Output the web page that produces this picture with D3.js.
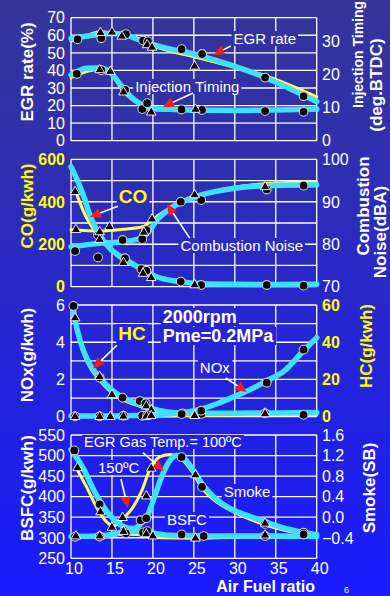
<!DOCTYPE html>
<html><head><meta charset="utf-8">
<script src="https://cdn.jsdelivr.net/npm/d3@7"></script>
<style>
body{margin:0;background:#1a1aff;overflow:hidden}
svg{display:block}
text{font-family:Arial,"Liberation Sans",sans-serif}
</style>
</head><body>
<svg id="c" width="390" height="596"></svg>
<script>
// ---------- DATA ----------
const afTicks = [10, 15, 20, 25, 30, 35, 40];
const xAxisTitle = "Air Fuel ratio";

// Panel 1: EGR rate (%) and Injection Timing (deg.BTDC)
const egrTicks = [0, 10, 20, 30, 40, 50, 60, 70];
const injTicks = [0, 10, 20, 30];
const egr100 = [[10,58.2],[13.5,60.5],[15.2,61],[17,59.7],[19,56.2],[21,53.4],[25,49.3],[30,42.3],[33.7,36],[37,29],[40,22.3]];
const egr150 = [[10,56.7],[11.8,59.5],[13.5,62],[16.2,60.5],[18,58.3],[20,54],[22.5,50.5],[25,47.8],[30,41.8],[33.7,37],[40,25]];
const egr100Pts = [[10.8,57.7],[13.7,58.3],[16.7,60.6],[18.8,57],[19.4,56.5],[23.5,52.1],[26,49.3],[33.7,35.9],[38.4,25.3]];
const egr150Pts = [[13.6,61.5],[15,61.7],[16.2,59.4],[19.3,54.5],[19.9,53.1],[25.1,42.3]];
const inj100 = [[10,19.8],[11.9,21.8],[13.5,21.9],[14.7,20.8],[15.9,17.3],[17.1,13.7],[18.3,11.3],[19.7,9.7],[21.5,9.5],[24.1,9.25],[30,9.1],[35,9.25],[40,9.5]];
const inj150 = [[10,19],[11.9,20.8],[13.7,21.6],[14.9,20.3],[16.1,15.8],[17.3,12.7],[18.6,10.7],[19.6,9.5],[21.5,9.2],[25,9.1],[30,9.1],[40,9.2]];
const inj100Pts = [[10.7,20.1],[13.7,21.2],[16.6,15.3],[18.7,9.5],[19.3,11.3],[23.5,9.4],[26,9.25],[33.7,8.9],[38.4,8.7]];
const inj150Pts = [[13.5,21.3],[14.8,20.8],[16.4,14.6],[19.8,8.55],[25.2,9.4]];

// Panel 2: CO (g/kwh) and Combustion Noise (dBA)
const coGrid = [0, 100, 200, 300, 400, 500, 600];
const coTicks = [0, 200, 400, 600];
const noiseTicks = [70, 80, 90, 100];
const co100 = [[10,565],[10.3,542],[11.5,432],[12.3,338],[13.3,256],[14.75,181],[16.8,126],[18.8,79],[20.45,47],[23.3,24],[26,14],[30,11],[35,10],[40,11]];
const co150 = [[10.5,456],[11.7,340],[12.9,262],[14.35,190],[16,135],[18.4,85],[20.45,50],[23.3,24],[25.7,10],[30,6],[35,6],[40,7]];
const co100Pts = [[13.3,243],[16.6,134],[18.6,83],[19.2,75],[23.4,24],[25.9,8],[33.9,8],[38.4,5]];
const co150Pts = [[10.5,447],[13.5,222],[16.4,113],[18.8,62],[19.8,42],[25.1,8]];
const noise100 = [[10,79.4],[13.5,80.2],[16.4,80.6],[18.5,81.4],[19.5,83],[20.5,85.7],[22.2,88.5],[23.6,90],[25.9,91.6],[30,93.2],[34.1,93.8],[40,94]];
const noise150 = [[10,83.4],[13.5,83.1],[16.8,83.6],[18.8,84.1],[19.6,85.2],[20.8,87],[23.3,89.6],[25.9,91.6],[30,93.4],[34.1,94.3],[40,94.7]];
const noise100Pts = [[10.5,78.4],[13.3,76.9],[16.3,81],[18.7,81.2],[19.2,83.3],[23.4,90],[25.9,90.4],[33.9,92.9],[38.4,93.8]];
const noise150Pts = [[10.6,83.4],[13.5,82.9],[14.7,84.1],[18.9,82.8],[19.9,85.9],[25.1,91.6],[33.7,93.5]];

// Panel 3: NOx (g/kwh) and HC (g/kwh)
const noxGrid = [0, 1, 2, 3, 4, 5, 6];
const noxTicks = [0, 2, 4, 6];
const hcTicks = [0, 20, 40, 60];
const hc100 = [[10.2,60],[10.5,52],[11.1,41],[12,30.5],[13.5,21],[15,14.3],[16.3,10.4],[18.4,6.7],[20,4.2],[23.3,2],[26,1.8],[30,1.9],[35,2],[40,2.2]];
const hc150 = [[10.5,53],[11.1,40],[12,29],[13.5,19.5],[15,12.8],[16.3,9.2],[18.4,5.6],[20,3.3],[23,1.5],[26,1],[30,1],[35,1.1],[40,1.2]];
const hc100Pts = [[10.3,59.5],[13.5,21],[16.3,10.2],[18.4,8.4],[19.1,7.2],[23.6,1.8],[25.9,1.5],[33.7,1.8],[38.4,1]];
const hc150Pts = [[10.5,53],[13.5,21.5],[15,11.7],[19.2,5.7],[19.8,3.6],[25.1,0.9],[33.7,1.8]];
const nox100 = [[10,0.04],[15,0.04],[18,0.06],[20,0.1],[22,0.16],[24,0.24],[26,0.42],[28,0.72],[30,1.1],[32,1.48],[34,1.95],[36,2.45],[38.3,3.5],[40,4.25]];
const nox150 = [[10,0.02],[20,0.03],[25,0.06],[30,0.1],[35,0.13],[40,0.13]];
const nox100Pts = [[10.5,0.02],[13.5,0.02],[16.4,0.05],[18.7,0.05],[19.3,0.08],[23.5,0.14],[25.9,0.32],[33.9,1.83],[38.4,3.6]];
const nox150Pts = [[10.5,0],[13.5,0],[14.8,0],[16.4,0.02],[19.2,0.02],[19.8,0.05],[25.1,0.05],[33.7,0.15]];

// Panel 4: BSFC (g/kwh) and Smoke
const bsfcTicks = [250, 300, 350, 400, 450, 500, 550];
const smokeTicks = [-0.4, 0, 0.4, 0.8, 1.2, 1.6];
const bsfc100 = [[10,303],[13,304],[15,308],[17,315],[19,316],[20.5,310],[22,306],[25,305],[30,304],[35,304],[40,303]];
const bsfc150 = [[10,301],[13,302],[15,305],[16.5,309],[18,308],[19.5,304],[21,300],[25,299],[30,301],[35,302],[40,302]];
const bsfc100Pts = [[10.5,302.5],[13.5,303],[16.5,316],[16.7,311],[18.8,313],[19.3,316],[23.5,308],[26.2,304],[33.7,304],[38.4,308]];
const bsfc150Pts = [[10.6,304],[13.5,304],[16.4,315],[19.2,309],[20,304],[25.2,298.6],[33.7,306]];
const smoke100 = [[10,1.32],[11.5,0.95],[13.1,0.43],[14.75,0.04],[16.4,-0.18],[17.6,-0.22],[18.6,-0.12],[19.3,0.02],[20.2,0.4],[20.9,0.72],[22.1,1.11],[22.9,1.2],[23.7,1.16],[24.9,0.92],[26.1,0.63],[27.4,0.4],[29.4,0.17],[31.4,0.04],[33.9,-0.1],[36.7,-0.24],[40,-0.34]];
const smoke150 = [[10.6,0.97],[11.9,0.59],[13.1,0.2],[14.35,-0.09],[15.2,-0.17],[16.4,-0.02],[17.6,0.2],[18.6,0.5],[19.6,0.92],[20.9,1.18],[22.1,1.22],[23.3,1.16],[24.9,0.86],[25.9,0.59],[27.4,0.34],[29.4,0.14],[33.9,-0.16],[40,-0.38]];
const smoke100Pts = [[10.4,1.3],[13.5,0.25],[18.5,-0.06],[19.2,-0.02],[23.5,1.17],[26,0.59],[33.7,-0.13],[38.4,-0.3]];
const smoke150Pts = [[10.8,0.96],[13.6,0.1],[15,-0.2],[16.3,-0.01],[19.2,0.41],[19.8,0.95],[25.2,0.82],[33.7,-0.12]];

// ---------- STYLE / LAYOUT ----------
const W = 390, H = 596;
const CYAN = "#3fe0fb", YEL = "#ffff5a", TXTY = "#ffff00";
const svg = d3.select("#c");
const defs = svg.append("defs");
const grad = defs.append("linearGradient").attr("id","bg").attr("gradientUnits","userSpaceOnUse")
  .attr("x1",0).attr("y1",0).attr("x2",0).attr("y2",H);
[[0,"#35359a"],[0.3,"#2e2eb3"],[0.55,"#2626d2"],[0.8,"#1f1feb"],[1,"#1a1aff"]]
  .forEach(([o,c]) => grad.append("stop").attr("offset",o).attr("stop-color",c));
svg.append("rect").attr("width",W).attr("height",H).attr("fill","url(#bg)");

const gridL = svg.append("g"), boxL = svg.append("g"), curveL = svg.append("g"),
      markL = svg.append("g"), annL = svg.append("g"), textL = svg.append("g");

const x = d3.scaleLinear().domain([10, 40]).range([71, 316.7]);

const panels = [
  {top:17.7, bottom:140.7, left:[0,70], right:[0,37], grid:egrTicks, lt:egrTicks, rt:injTicks,
   lc:"#fff", rc:"#fff", lb:false, rb:false, rfmt:d=>d,
   series:[[egr150,"l",YEL],[inj150,"r",YEL],[egr100,"l",CYAN],[inj100,"r",CYAN]],
   marks:[[egr100Pts,"l","c"],[egr150Pts,"l","t"],[inj100Pts,"r","c"],[inj150Pts,"r","t"]]},
  {top:159.3, bottom:286.7, left:[0,600], right:[70,100], grid:coGrid, lt:coTicks, rt:noiseTicks,
   lc:TXTY, rc:"#fff", lb:true, rb:false, rfmt:d=>d,
   series:[[co150,"l",YEL],[noise150,"r",YEL],[co100,"l",CYAN],[noise100,"r",CYAN]],
   marks:[[co100Pts,"l","c"],[co150Pts,"l","t"],[noise100Pts,"r","c"],[noise150Pts,"r","t"]]},
  {top:305, bottom:416.7, left:[0,6], right:[0,60], grid:noxGrid, lt:noxTicks, rt:hcTicks,
   lc:"#fff", rc:TXTY, lb:false, rb:true, rfmt:d=>d,
   series:[[hc150,"r",YEL],[nox150,"l",YEL],[hc100,"r",CYAN],[nox100,"l",CYAN]],
   marks:[[hc100Pts,"r","c"],[hc150Pts,"r","t"],[nox100Pts,"l","c"],[nox150Pts,"l","t"]]},
  {top:435, bottom:558.3, left:[250,550], right:[-0.8,1.6], grid:bsfcTicks, lt:bsfcTicks, rt:smokeTicks,
   lc:"#fff", rc:"#fff", lb:false, rb:false, rfmt:d3.format(".1f"),
   series:[[bsfc150,"l",YEL],[smoke150,"r",YEL],[bsfc100,"l",CYAN],[smoke100,"r",CYAN]],
   marks:[[smoke100Pts,"r","c"],[smoke150Pts,"r","t"],[bsfc100Pts,"l","c"],[bsfc150Pts,"l","t"]]}
];

panels.forEach(p => {
  p.yl = d3.scaleLinear().domain(p.left).range([p.bottom, p.top]);
  p.yr = d3.scaleLinear().domain(p.right).range([p.bottom, p.top]);
  p.grid.forEach(v => gridL.append("line").attr("x1",x(10)).attr("x2",x(40))
    .attr("y1",p.yl(v)).attr("y2",p.yl(v)).attr("stroke","#fff").attr("stroke-width",1.3));
  afTicks.forEach(v => gridL.append("line").attr("x1",x(v)).attr("x2",x(v))
    .attr("y1",p.top).attr("y2",p.bottom).attr("stroke","#fff").attr("stroke-width",1.3));
  p.lt.forEach(v => textL.append("text").attr("x",65).attr("y",p.yl(v)).attr("dy","0.36em")
    .attr("text-anchor","end").attr("font-size",16).attr("font-weight",p.lb?"bold":"normal")
    .attr("fill",p.lc).text(v));
  p.rt.forEach(v => textL.append("text").attr("x",322).attr("y",p.yr(v)).attr("dy","0.36em")
    .attr("text-anchor","start").attr("font-size",16).attr("font-weight",p.rb?"bold":"normal")
    .attr("fill",p.rc).text(p.rfmt(v)));
  p.series.forEach(([d, ax, col]) => {
    const ys = ax === "l" ? p.yl : p.yr;
    curveL.append("path").datum(d)
      .attr("d", d3.line().x(q=>x(q[0])).y(q=>ys(q[1])).curve(d3.curveMonotoneX))
      .attr("fill","none").attr("stroke",col).attr("stroke-width", col===CYAN?5.5:3)
      .attr("stroke-linecap","round").attr("stroke-linejoin","round");
  });
  p.marks.forEach(([d, ax, shape]) => {
    const ys = ax === "l" ? p.yl : p.yr;
    if (shape === "c") {
      markL.selectAll(null).data(d).enter().append("circle")
        .attr("cx",q=>x(q[0])).attr("cy",q=>ys(q[1])).attr("r",4.4)
        .attr("fill","#000").attr("stroke","#c8c8c8").attr("stroke-width",1.1);
    } else {
      markL.selectAll(null).data(d).enter().append("path")
        .attr("d", d3.symbol(d3.symbolTriangle, 40))
        .attr("transform",q=>`translate(${x(q[0])},${ys(q[1])})`)
        .attr("fill","#000").attr("stroke","#fff").attr("stroke-width",0.9);
    }
  });
});

// x tick labels and title
afTicks.forEach(v => textL.append("text").attr("x",x(v)+3).attr("y",574).attr("text-anchor","middle")
  .attr("font-size",16).attr("fill","#fff").text(v));
textL.append("text").attr("x",315).attr("y",592).attr("text-anchor","end")
  .attr("font-size",16).attr("font-weight","bold").attr("fill","#fff").text(xAxisTitle);
textL.append("text").attr("x",344).attr("y",593).attr("font-size",9).attr("fill","#fff").text("6");

// axis titles
function vtitle(tx, ty, str, col, anchor, size) {
  textL.append("text").attr("transform",`translate(${tx},${ty}) rotate(-90)`)
    .attr("text-anchor",anchor||"middle").attr("font-size",size||17).attr("font-weight","bold")
    .attr("fill",col).text(str);
}
vtitle(33, 72, "EGR rate(%)", "#fff");
vtitle(33, 206, "CO(g/kwh)", TXTY);
vtitle(33, 355, "NOx(g/kwh)", "#fff");
vtitle(33, 488, "BSFC(g/kwh)", "#fff");
vtitle(363, 108, "Injection Timing", "#fff", "start", 14);
vtitle(382, 85, "(deg.BTDC)", "#fff");
vtitle(369, 206, "Combustion", "#fff");
vtitle(386, 232, "Noise(dBA)", "#fff");
vtitle(372, 346, "HC(g/kwh)", TXTY);
vtitle(375, 488, "Smoke(SB)", "#fff");

// annotations (data coordinates through the panel scales)
function label(pi, af, val, str, o) {
  const p = panels[pi];
  const t = textL.append("text").attr("x",x(af)).attr("y",p.yl(val))
    .attr("text-anchor",o.anchor||"middle").attr("font-size",o.size||15)
    .attr("font-weight",o.bold?"bold":"normal").attr("fill",o.color||"#fff").text(str);
  const b = t.node().getBBox();
  boxL.append("rect").attr("x",b.x-2).attr("y",b.y+1).attr("width",b.width+4).attr("height",b.height-2)
    .attr("fill","url(#bg)");
}
function arrow(pi, af1, v1, af2, v2, head) {
  const p = panels[pi];
  const x1 = x(af1), y1 = p.yl(v1), x2 = x(af2), y2 = p.yl(v2);
  const a = Math.atan2(y2-y1, x2-x1), L = head ? 11 : 0, w = 5;
  const bx = x2 - L*Math.cos(a), by = y2 - L*Math.sin(a);
  annL.append("line").attr("x1",x1).attr("y1",y1).attr("x2",bx).attr("y2",by)
    .attr("stroke","#fff").attr("stroke-width",1.6);
  if (head) annL.append("path")
    .attr("d",`M${x2},${y2}L${bx+w*Math.sin(a)},${by-w*Math.cos(a)}L${bx-w*Math.sin(a)},${by+w*Math.cos(a)}Z`)
    .attr("fill","#ff1a1a");
}
label(0, 33.66, 55, "EGR rate", {});
arrow(0, 29.5, 53.9, 27.4, 48.8, true);
label(0, 24.2, 27.7, "Injection Timing", {});
arrow(0, 24.9, 27.1, 21.2, 19.2, true);
label(1, 17.56, 394, "CO", {size:19, bold:true, color:TXTY});
arrow(1, 15.73, 379, 12.3, 328, true);
label(1, 30.85, 168, "Combustion Noise", {});
arrow(1, 24.5, 229, 21.7, 390, true);
label(2, 21.2, 5.03, "2000rpm", {size:18, bold:true, anchor:"start"});
label(2, 21.2, 4.01, "Pme=0.2MPa", {size:18, bold:true, anchor:"start"});
label(2, 17.44, 4.12, "HC", {size:19, bold:true, color:TXTY});
arrow(2, 15.6, 3.84, 12.7, 2.6, true);
label(2, 27.56, 2.35, "NOx", {});
arrow(2, 28.9, 2.08, 31.46, 1.33, true);
label(3, 11.6, 520.8, "EGR Gas Temp.= 100ºC", {size:14.5, anchor:"start"});
arrow(3, 18.78, 506.9, 21.34, 462.4, true);
label(3, 13.3, 457.5, "150ºC", {anchor:"start"});
arrow(3, 16.1, 443, 16.95, 372.4, true);
label(3, 31.5, 399, "Smoke", {});
label(3, 24.15, 331, "BSFC", {});
</script>
</body></html>
